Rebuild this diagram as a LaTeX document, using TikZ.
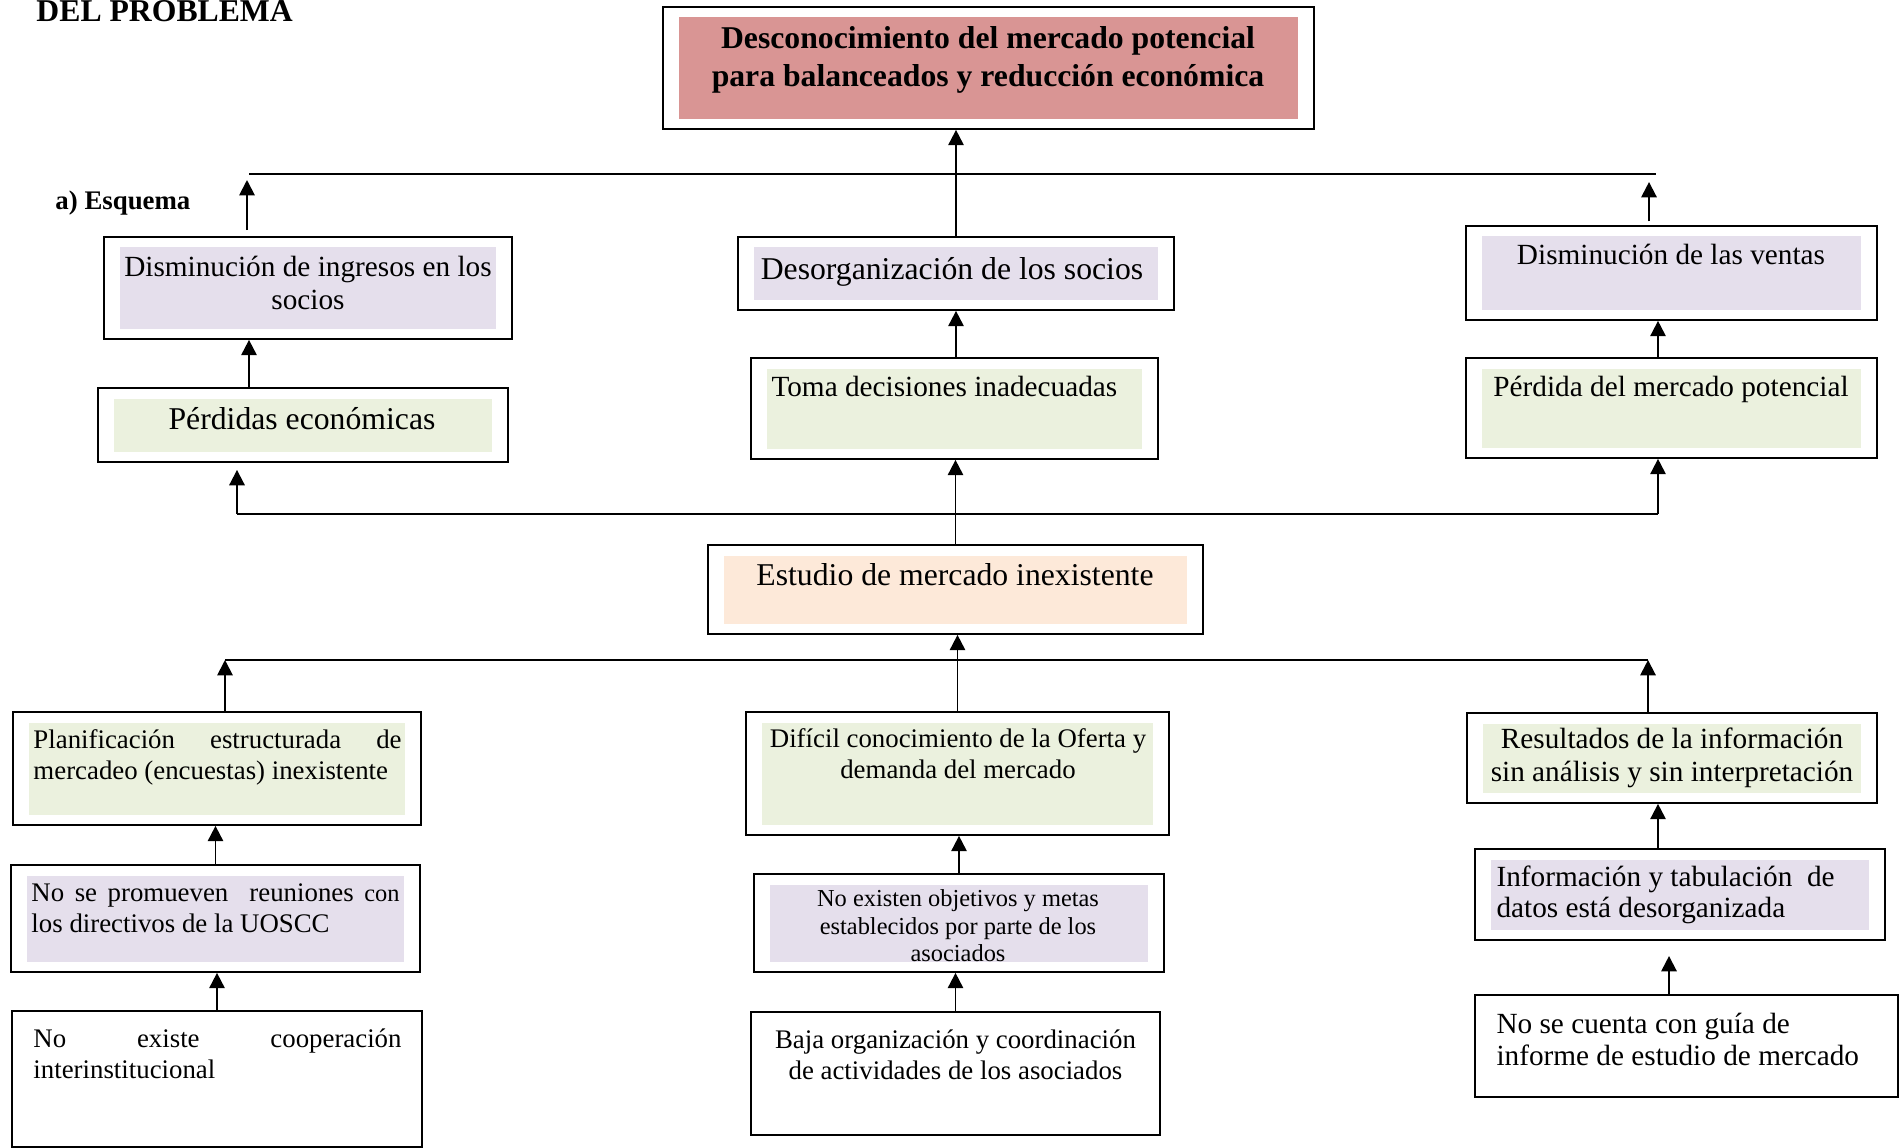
\documentclass[tikz,border=0pt]{standalone}
\usepackage{fontspec}
\setmainfont{Liberation Serif}
\usetikzlibrary{fit,arrows.meta}
\definecolor{pinkf}{HTML}{D99594}
\definecolor{lavf}{HTML}{E5DFEC}
\definecolor{greenf}{HTML}{EBF1DE}
\definecolor{peachf}{HTML}{FDE9D9}
\begin{document}
\begin{tikzpicture}[x=0.41pt,y=-0.41pt,
  box/.style={draw, line width=0.7pt, inner sep=0pt},
  innerfill/.style={path picture={\fill[#1] ([xshift=6.56pt,yshift=-4.3pt]path picture bounding box.north west) rectangle ([xshift=-6.56pt,yshift=4.3pt]path picture bounding box.south east);}},
  arr/.style={-{Triangle[width=6.3pt,length=6.3pt]}, line width=0.8pt},
  bus/.style={line width=0.75pt},
  txt/.style={inner sep=0pt, align=center},
  txl/.style={inner sep=0pt, align=left, anchor=west},
  fbig/.style={font=\fontsize{13}{15.6}\selectfont},
  ftb/.style={font=\fontsize{13}{15.6}\selectfont\bfseries},
  fmid/.style={font=\fontsize{12}{13.5}\selectfont},
  fsm/.style={font=\fontsize{11}{12.7}\selectfont},
  ftiny/.style={font=\fontsize{10}{11.3}\selectfont}]
\useasboundingbox (0,0) rectangle (1902,1147);
\begin{scope}
\clip (0,0) rectangle (1902,1147);

% labels
\node[inner sep=0pt, anchor=base west, font=\fontsize{13}{15}\selectfont\bfseries] (lab1) at (36,21.5) {DEL PROBLEMA};
\node[inner sep=0pt, anchor=base west, font=\fontsize{11}{13}\selectfont\bfseries] (lab2) at (55,209) {a) Esquema};

% boxes
\node[box, innerfill=pinkf, fit={(663,7)(1314,129)}] (T) {};
\node[box, innerfill=lavf, fit={(104,237)(512,339)}] (L1) {};
\node[box, innerfill=lavf, fit={(738,237)(1174,310)}] (M1) {};
\node[box, innerfill=lavf, fit={(1466,226)(1877,320)}] (R1) {};
\node[box, innerfill=greenf, fit={(98,388)(508,462)}] (L2) {};
\node[box, innerfill=greenf, fit={(751,358)(1158,459)}] (M2) {};
\node[box, innerfill=greenf, fit={(1466,358)(1877,458)}] (R2) {};
\node[box, innerfill=peachf, fit={(708,545)(1203,634)}] (E) {};
\node[box, innerfill=greenf, fit={(13,712)(421,825)}] (P) {};
\node[box, innerfill=greenf, fit={(746,712)(1169,835)}] (D) {};
\node[box, innerfill=greenf, fit={(1467,713)(1877,803)}] (Res) {};
\node[box, innerfill=lavf, fit={(11,865)(420,972)}] (NP) {};
\node[box, innerfill=lavf, fit={(754,874)(1164,972)}] (NE) {};
\node[box, innerfill=lavf, fit={(1475,849)(1885,940)}] (I) {};
\node[box, fit={(12,1011)(422,1147)}] (NC) {};
\node[box, fit={(751,1012)(1160,1135)}] (B) {};
\node[box, fit={(1475,995)(1898,1097)}] (NSC) {};

% texts
\node[txt, ftb] (tT) at (988,59.5) {Desconocimiento del mercado potencial\\para balanceados y reducción económica};
\node[txt, fmid] (tL1) at (308,283) {Disminución de ingresos en los\\socios};
\node[txt, fbig] (tM1) at (952,272) {Desorganización de los socios};
\node[txt, fmid] (tR1) at (1671,254) {Disminución de las ventas};
\node[txt, fbig] (tL2) at (302,419) {Pérdidas económicas};
\node[txl, fmid] (tM2) at (771,386) {Toma decisiones inadecuadas};
\node[txt, fmid] (tR2) at (1671,389) {Pérdida del mercado potencial};
\node[txt, fbig] (tE) at (955,575) {Estudio de mercado inexistente};
\node[txl, fsm] (tP) at (33,757) {\makebox[150.9pt][s]{Planificación estructurada de}\\mercadeo (encuestas) inexistente};
\node[txt, fsm] (tD) at (958,753.5) {Difícil conocimiento de la Oferta y\\demanda del mercado};
\node[txt, font=\fontsize{12}{13.5}\selectfont] (tRes) at (1672,757.5) {Resultados de la información\\sin análisis y sin interpretación};
\node[txl, fsm] (tNP) at (31,908) {\makebox[150.9pt][s]{No se promueven\ \ reuniones {\fontsize{10}{12}\selectfont con}}\\los directivos de la UOSCC};
\node[txt, ftiny] (tNE) at (958,926) {No existen objetivos y metas\\establecidos por parte de los\\asociados};
\node[txl, font=\fontsize{12}{12.7}\selectfont] (tI) at (1496,894.5) {Información y tabulación\ \ de\\datos está desorganizada};
\node[txl, fsm] (tNC) at (33,1053.5) {\makebox[150.9pt][s]{No existe cooperación}\\interinstitucional};
\node[txt, fsm] (tB) at (955.5,1054.5) {Baja organización y coordinación\\de actividades de los asociados};
\node[txl, font=\fontsize{12}{13.1}\selectfont] (tNSC) at (1496,1039) {No se cuenta con guía de\\informe de estudio de mercado};

% bus coordinates
\coordinate (b1L) at (249,174);
\coordinate (b1R) at (1656,174);
\coordinate (b2L) at (237,514);
\coordinate (b2R) at (1658,514);
\coordinate (b3L) at (225,660);
\coordinate (b3R) at (1648,660);
\coordinate (a1) at (247,180);
\coordinate (a2) at (1649,182);
\coordinate (a3) at (1669,956);

% bus lines
\draw[bus, line width=0.6pt] (b1L) -- (b1R);
\draw[bus] (b2L) -- (b2R);
\draw[bus] (b3L) -- (b3R);

% arrows top level
\draw[arr, shorten <=2.5pt] (L1.north -| a1) -- (a1);
\draw[arr, shorten <=1.6pt] (R1.north -| a2) -- (a2);
\draw[arr] (M1.north) -- (M1.north |- T.south);
\draw[arr] (L2.north -| b1L) -- (L1.south -| b1L);
\draw[arr] (M1.south |- M2.north) -- (M1.south);
\draw[arr] (R2.north -| b2R) -- (R1.south -| b2R);
\draw[arr, shorten >=2.9pt] (b2L) -- (b2L |- L2.south);
\draw[arr] (b2R) -- (b2R |- R2.south);
\draw[arr] (E.north) -- (E.north |- M2.south);

% arrows lower level
\draw[arr] (P.north -| b3L) -- (b3L);
\draw[arr] (Res.north -| b3R) -- (b3R);
\draw[arr] (D.north) -- (D.north |- E.south);
\draw[arr] (NP.north) -- (NP.north |- P.south);
\draw[arr] (NC.north) -- (NC.north |- NP.south);
\draw[arr] (NE.north) -- (NE.north |- D.south);
\draw[arr] (B.north) -- (B.north |- NE.south);
\draw[arr] (I.north -| b2R) -- (Res.south -| b2R);
\draw[arr] (NSC.north -| a3) -- (a3);
\end{scope}
\end{tikzpicture}
\end{document}
